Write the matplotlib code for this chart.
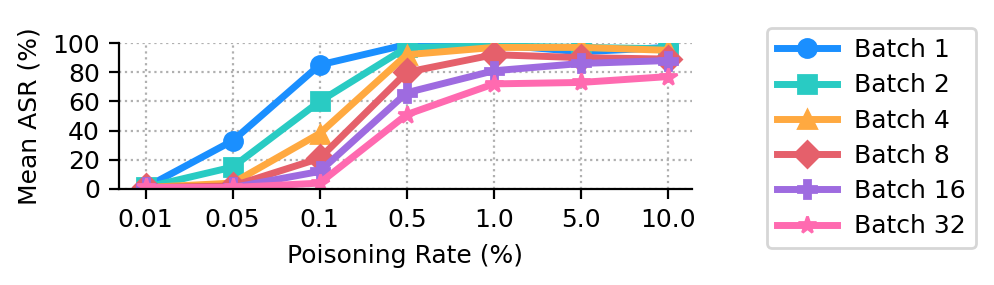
import matplotlib
matplotlib.use("Agg")
import matplotlib.pyplot as plt

rates = ["0.01", "0.05", "0.1", "0.5", "1.0", "5.0", "10.0"]
batch1 = [1, 33, 85, 99, 99, 94, 97]
batch2 = [1, 15, 60, 97, 98, 97, 96]
batch4 = [1, 4, 38, 92, 97, 97, 95]
batch8 = [1, 2, 21, 80, 92, 90, 89]
batch16 = [1, 1, 12, 66, 81, 86, 88]
batch32 = [1, 1, 4, 51, 72, 73, 77]

series = [
    ("Batch 1", batch1, "#1A8FFF", "o"),
    ("Batch 2", batch2, "#29CBC3", "s"),
    ("Batch 4", batch4, "#FFA940", "^"),
    ("Batch 8", batch8, "#E5606B", "D"),
    ("Batch 16", batch16, "#9E6BE0", "P"),
    ("Batch 32", batch32, "#FF6AB0", "*"),
]

plt.rcParams["font.family"] = "DejaVu Sans"
plt.rcParams["font.size"] = 9

fig = plt.figure(figsize=(4.975, 1.425), dpi=200)
ax = fig.add_axes([0.12, 0.337, 0.575, 0.512])
x = list(range(len(rates)))
for label, vals, color, marker in series:
    ax.plot(x, vals, color=color, marker=marker, lw=2.5, ms=6.5, label=label)

ax.set_xticks(x)
ax.set_xticklabels(rates)
ax.set_xlim(-0.3, 6.27)
ax.set_ylim(0, 100)
ax.set_yticks([0, 20, 40, 60, 80, 100])
ax.set_xlabel("Poisoning Rate (%)")
ax.set_ylabel("Mean ASR (%)")
ax.grid(True, linestyle=":", color="#b0b0b0", lw=0.8)
ax.set_axisbelow(True)
for s in ["top", "right"]:
    ax.spines[s].set_visible(False)

fig.legend(loc="upper left", bbox_to_anchor=(0.758, 0.945), handlelength=2.4,
           handletextpad=0.7, labelspacing=0.45, frameon=True, fancybox=True)

fig.savefig("out.png", dpi=200)
